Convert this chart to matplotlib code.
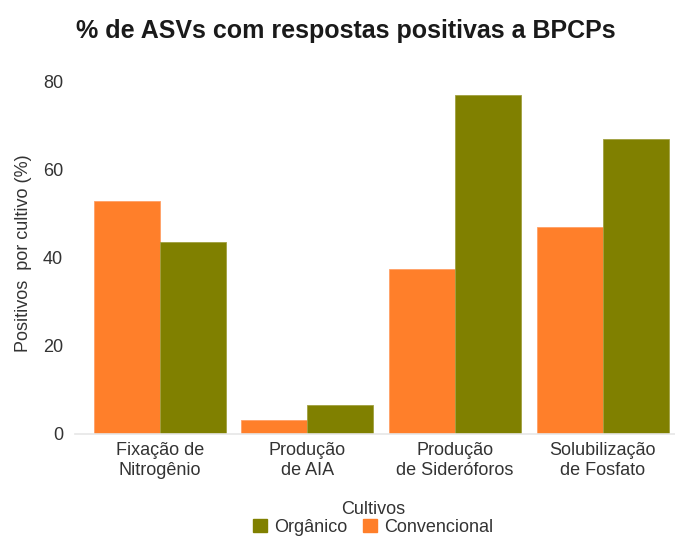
import matplotlib.pyplot as plt
import numpy as np
from matplotlib.patches import Patch

plt.rcParams['font.family'] = ['Liberation Sans', 'DejaVu Sans']

categorias = ['Fixação de\nNitrogênio', 'Produção\nde AIA', 'Produção\nde Sideróforos', 'Solubilização\nde Fosfato']
convencional = [53, 3.2, 37.5, 47]
organico = [43.5, 6.6, 77, 67]

cor_conv = '#ff7f2a'
cor_org = '#808000'
cor_txt = '#333333'

fig = plt.figure(figsize=(6.75, 5.37), dpi=100)
ax = fig.add_axes([0.111, 0.192, 0.889, 0.672])

x = np.arange(len(categorias))
w = 0.446
ax.bar(x - w / 2, convencional, w, color=cor_conv, edgecolor='#ffa066', linewidth=0.6)
ax.bar(x + w / 2, organico, w, color=cor_org, edgecolor='#a0a040', linewidth=0.6)

ax.set_xlim(-0.574, 3.49)
ax.set_ylim(0, 82)
ax.set_yticks([0, 20, 40, 60, 80])
ax.set_xticks(x)
ax.set_xticklabels(categorias)
ax.tick_params(axis='both', length=0, labelsize=13, colors=cor_txt)
ax.tick_params(axis='x', pad=6)
ax.tick_params(axis='y', pad=8.5)

for s in ['top', 'right', 'left']:
    ax.spines[s].set_visible(False)
ax.spines['bottom'].set_color('#e6e6e6')
ax.spines['bottom'].set_linewidth(1.2)

ax.set_ylabel('Positivos  por cultivo (%)', fontsize=13, color=cor_txt, labelpad=8)

fig.suptitle('% de ASVs com respostas positivas a BPCPs', fontsize=18, fontweight='bold',
             x=0.513, y=0.965, color='#1a1a1a')

handles = [Patch(color=cor_org), Patch(color=cor_conv)]
leg = fig.legend(handles, ['Orgânico', 'Convencional'], title='Cultivos', ncol=2,
                 loc='lower center', bbox_to_anchor=(0.553, -0.018), frameon=False,
                 fontsize=13, title_fontsize=13, handlelength=0.75, handleheight=0.75,
                 handletextpad=0.4, columnspacing=0.9, borderpad=0.1, labelspacing=0.05)
for t in leg.get_texts():
    t.set_color(cor_txt)
leg.get_title().set_color(cor_txt)

fig.savefig('out.png', dpi=100)
